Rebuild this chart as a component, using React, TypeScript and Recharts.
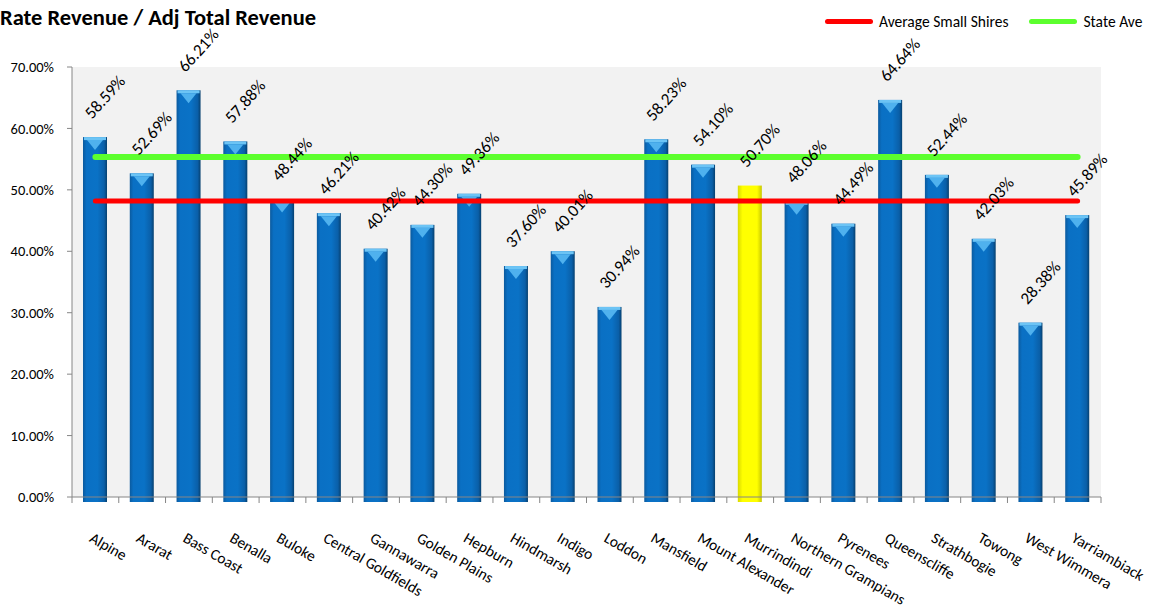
import { Bar, CartesianGrid, ComposedChart, LabelList, Line, XAxis, YAxis } from 'recharts';

const councils = [
  'Alpine', 'Ararat', 'Bass Coast', 'Benalla', 'Buloke', 'Central Goldfields', 'Gannawarra',
  'Golden Plains', 'Hepburn', 'Hindmarsh', 'Indigo', 'Loddon', 'Mansfield', 'Mount Alexander',
  'Murrindindi', 'Northern Grampians', 'Pyrenees', 'Queenscliffe', 'Strathbogie', 'Towong',
  'West Wimmera', 'Yarriambiack',
];
const rateShare = [
  58.59, 52.69, 66.21, 57.88, 48.44, 46.21, 40.42, 44.3, 49.36, 37.6, 40.01, 30.94, 58.23, 54.1,
  50.7, 48.06, 44.49, 64.64, 52.44, 42.03, 28.38, 45.89,
];
const smallShiresAvg = 48.2;
const stateAvg = 55.35;
const highlighted = 'Murrindindi';
const yTicks = [0, 10, 20, 30, 40, 50, 60, 70];

const data = councils.map((name, i) => ({
  name,
  value: rateShare[i],
  small: smallShiresAvg,
  state: stateAvg,
}));

const W = 1149;
const H = 610;
const FONT = 'Carlito, Lato, sans-serif';
const AXIS = '#868686';
const PLOT_LEFT = 72;
const PLOT_RIGHT = 1101;
const X_AXIS_H = 113;
const BAND = (PLOT_RIGHT - PLOT_LEFT) / councils.length;

function BarShape(props: any) {
  const { x, y, width, height, payload } = props;
  const yellow = payload.name === highlighted;
  const h = height + 5;
  const cx = x + width / 2;
  return (
    <g>
      <rect x={x} y={y} width={width} height={h} fill={yellow ? 'url(#gYellow)' : 'url(#gBlue)'} />
      {!yellow && (
        <>
          <rect x={x + 1} y={y} width={width - 2} height={3} fill="#6cc4f5" />
          <polygon
            points={`${x + 4},${y + 3} ${x + width - 4},${y + 3} ${cx},${y + 13}`}
            fill="#4fb1ee"
          />
        </>
      )}
    </g>
  );
}

function ValueLabel(props: any) {
  const { x, y, width, value } = props;
  const lx = x + width / 2 + 10;
  const ly = y - 40;
  return (
    <text
      x={lx}
      y={ly}
      transform={`rotate(-48 ${lx} ${ly})`}
      textAnchor="middle"
      dominantBaseline="central"
      fontSize={17}
      fontFamily={FONT}
      fill="#000"
    >
      {`${Number(value).toFixed(2)}%`}
    </text>
  );
}

function CategoryTick(props: any) {
  const { x, payload, index } = props;
  const axisY = H - X_AXIS_H;
  const tx = x - 7;
  const ty = axisY + 44;
  return (
    <g>
      <line x1={x - BAND / 2} x2={x - BAND / 2} y1={axisY} y2={axisY + 6} stroke={AXIS} />
      {index === councils.length - 1 && (
        <line x1={x + BAND / 2} x2={x + BAND / 2} y1={axisY} y2={axisY + 6} stroke={AXIS} />
      )}
      <text
        x={tx}
        y={ty}
        transform={`rotate(30 ${tx} ${ty})`}
        textAnchor="start"
        fontSize={15.4}
        fontFamily={FONT}
        fill="#000"
      >
        {payload.value}
      </text>
    </g>
  );
}

function LegendBox() {
  const item = (color: string, label: string, gap: number) => (
    <span style={{ display: 'inline-flex', alignItems: 'center', marginRight: gap }}>
      <span style={{ display: 'inline-block', width: 48, height: 5, background: color, borderRadius: 3, marginRight: 6 }} />
      <span>{label}</span>
    </span>
  );
  return (
    <div
      style={{
        position: 'absolute',
        left: 825,
        top: 9,
        fontFamily: FONT,
        fontSize: 15.5,
        color: '#000',
        whiteSpace: 'nowrap',
        zIndex: 1,
      }}
    >
      {item('#ff0000', 'Average Small Shires', 21)}
      {item('#5cff2e', 'State Ave', 0)}
    </div>
  );
}

export default function App() {
  return (
    <div style={{ position: 'absolute', left: 0, top: 0, width: W, height: H, background: '#fff' }}>
      <div
        style={{
          position: 'absolute',
          left: 0,
          top: 4,
          fontFamily: FONT,
          fontWeight: 700,
          fontSize: 22.5,
          color: '#000',
          zIndex: 1,
        }}
      >
        Rate Revenue / Adj Total Revenue
      </div>
      <LegendBox />
      <ComposedChart
        width={W}
        height={H}
        data={data}
        margin={{ top: 67, right: W - PLOT_RIGHT, bottom: 0, left: 0 }}
      >
        <defs>
          <linearGradient id="gBlue" x1="0" y1="0" x2="1" y2="0">
            <stop offset="0%" stopColor="#0b5a9e" />
            <stop offset="15%" stopColor="#0a70c4" />
            <stop offset="60%" stopColor="#0a72c6" />
            <stop offset="88%" stopColor="#0a5fa8" />
            <stop offset="100%" stopColor="#06406f" />
          </linearGradient>
          <linearGradient id="gYellow" x1="0" y1="0" x2="1" y2="0">
            <stop offset="0%" stopColor="#d9d900" />
            <stop offset="20%" stopColor="#ffff00" />
            <stop offset="80%" stopColor="#ffff00" />
            <stop offset="100%" stopColor="#c8c800" />
          </linearGradient>
        </defs>
        <CartesianGrid fill="#f2f2f2" stroke="none" vertical={false} horizontal={false} />
        <XAxis
          dataKey="name"
          interval={0}
          height={X_AXIS_H}
          stroke={AXIS}
          tickLine={false}
          tick={<CategoryTick />}
        />
        <YAxis
          domain={[0, 70]}
          ticks={yTicks}
          width={PLOT_LEFT}
          stroke={AXIS}
          tickSize={5}
          tickMargin={13}
          tickFormatter={(v: number) => `${v.toFixed(2)}%`}
          tick={{ fontSize: 14.5, fontFamily: FONT, fill: '#000' }}
        />
        <Bar dataKey="value" barSize={24} shape={<BarShape />} isAnimationActive={false}>
          <LabelList dataKey="value" content={<ValueLabel />} />
        </Bar>
        <Line
          dataKey="small"
          stroke="#ff0000"
          strokeWidth={5}
          strokeLinecap="round"
          dot={false}
          activeDot={false}
          isAnimationActive={false}
        />
        <Line
          dataKey="state"
          stroke="#5cff2e"
          strokeWidth={6}
          strokeLinecap="round"
          dot={false}
          activeDot={false}
          isAnimationActive={false}
        />
      </ComposedChart>
    </div>
  );
}
